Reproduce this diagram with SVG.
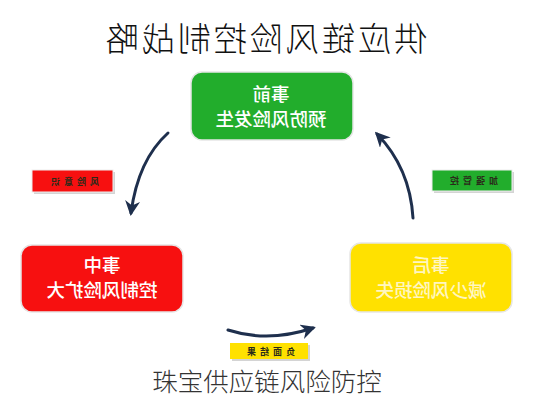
<svg xmlns="http://www.w3.org/2000/svg" width="533" height="400" viewBox="0 0 533 400">
<defs>
<style>
.title{font-family:"Noto Sans CJK SC","Noto Sans",sans-serif;font-size:33px;font-weight:300;fill:#111111;letter-spacing:3px;text-anchor:middle}
.box{stroke:#e6e6e6;stroke-width:1.5}
.bt{font-family:"Noto Sans CJK SC","Noto Sans",sans-serif;font-size:18.5px;font-weight:500;text-anchor:middle}
.tag{stroke:#eeeeee;stroke-width:1}
.tagsh{fill:#d4d4d4}
.tt{font-family:"Noto Sans CJK SC","Noto Sans",sans-serif;font-size:9px;font-weight:700;fill:#2a2a1a;letter-spacing:4px;text-anchor:middle}
.cap{font-family:"Noto Sans CJK SC","Noto Sans",sans-serif;font-size:25.5px;font-weight:300;fill:#333333;text-anchor:middle}
.arr{fill:none;stroke:#1e2f4d;stroke-width:3;stroke-linecap:round;marker-end:url(#ah)}
</style>
<marker id="ah" viewBox="0 0 10 10" refX="8" refY="5" markerWidth="5" markerHeight="5" orient="auto" markerUnits="strokeWidth">
<path d="M0,0 L10,5 L0,10 L3,5 z" fill="#1e2f4d"/>
</marker>
</defs>
<rect width="533" height="400" fill="#ffffff"/>

<g id="title" transform="matrix(-1 0 0 1 530 0)">
<text class="title" x="265" y="51">供应链风险控制战略</text>
</g>

<g id="node-before">
<rect class="box" x="191" y="72" width="162" height="68" rx="11" fill="#22ad2c"/>
<g transform="matrix(-1 0 0 1 542 0)">
<text class="bt" x="271" y="101" fill="#ffffff">事前</text>
<text class="bt" x="271" y="126" fill="#ffffff">预防风险发生</text>
</g>
</g>

<g id="node-during">
<rect class="box" x="21" y="245" width="162" height="67" rx="11" fill="#f71010"/>
<g transform="matrix(-1 0 0 1 204 0)">
<text class="bt" x="102" y="272" fill="#ffffff">事中</text>
<text class="bt" x="102" y="297" fill="#ffffff">控制风险扩大</text>
</g>
</g>

<g id="node-after">
<rect class="box" x="350" y="243" width="162" height="69" rx="11" fill="#ffe100"/>
<g transform="matrix(-1 0 0 1 862 0)">
<text class="bt" x="431" y="272" fill="#fff6c0">事后</text>
<text class="bt" x="431" y="297" fill="#fff6c0">减少风险损失</text>
</g>
</g>

<g id="connectors">
<path class="arr" d="M168,133 Q138,160 131,213"/>
<path class="arr" d="M413,218 Q410,168 377,134"/>
<path class="arr" d="M228,330 Q268,343 313,328"/>
</g>

<g id="tag-risk">
<rect class="tagsh" x="34" y="172" width="81" height="22"/>
<rect class="tag" x="32" y="170" width="81" height="22" fill="#f71010"/>
<g transform="matrix(-1 0 0 1 146 0)">
<text class="tt" x="73" y="185">风险意识</text>
</g>
</g>

<g id="tag-control">
<rect class="tagsh" x="434" y="172" width="80" height="21"/>
<rect class="tag" x="432" y="170" width="80" height="21" fill="#22ad2c"/>
<g transform="matrix(-1 0 0 1 944 0)">
<text class="tt" x="472" y="184">加强管控</text>
</g>
</g>

<g id="tag-result">
<rect class="tagsh" x="232" y="345" width="78" height="16" fill="#f4f0c8"/>
<rect x="230" y="343" width="78" height="16" fill="#ffe100"/>
<g transform="matrix(-1 0 0 1 538 0)">
<text class="tt" x="269" y="355">负面结果</text>
</g>
</g>

<g id="caption">
<text class="cap" x="267" y="391">珠宝供应链风险防控</text>
</g>
</svg>
